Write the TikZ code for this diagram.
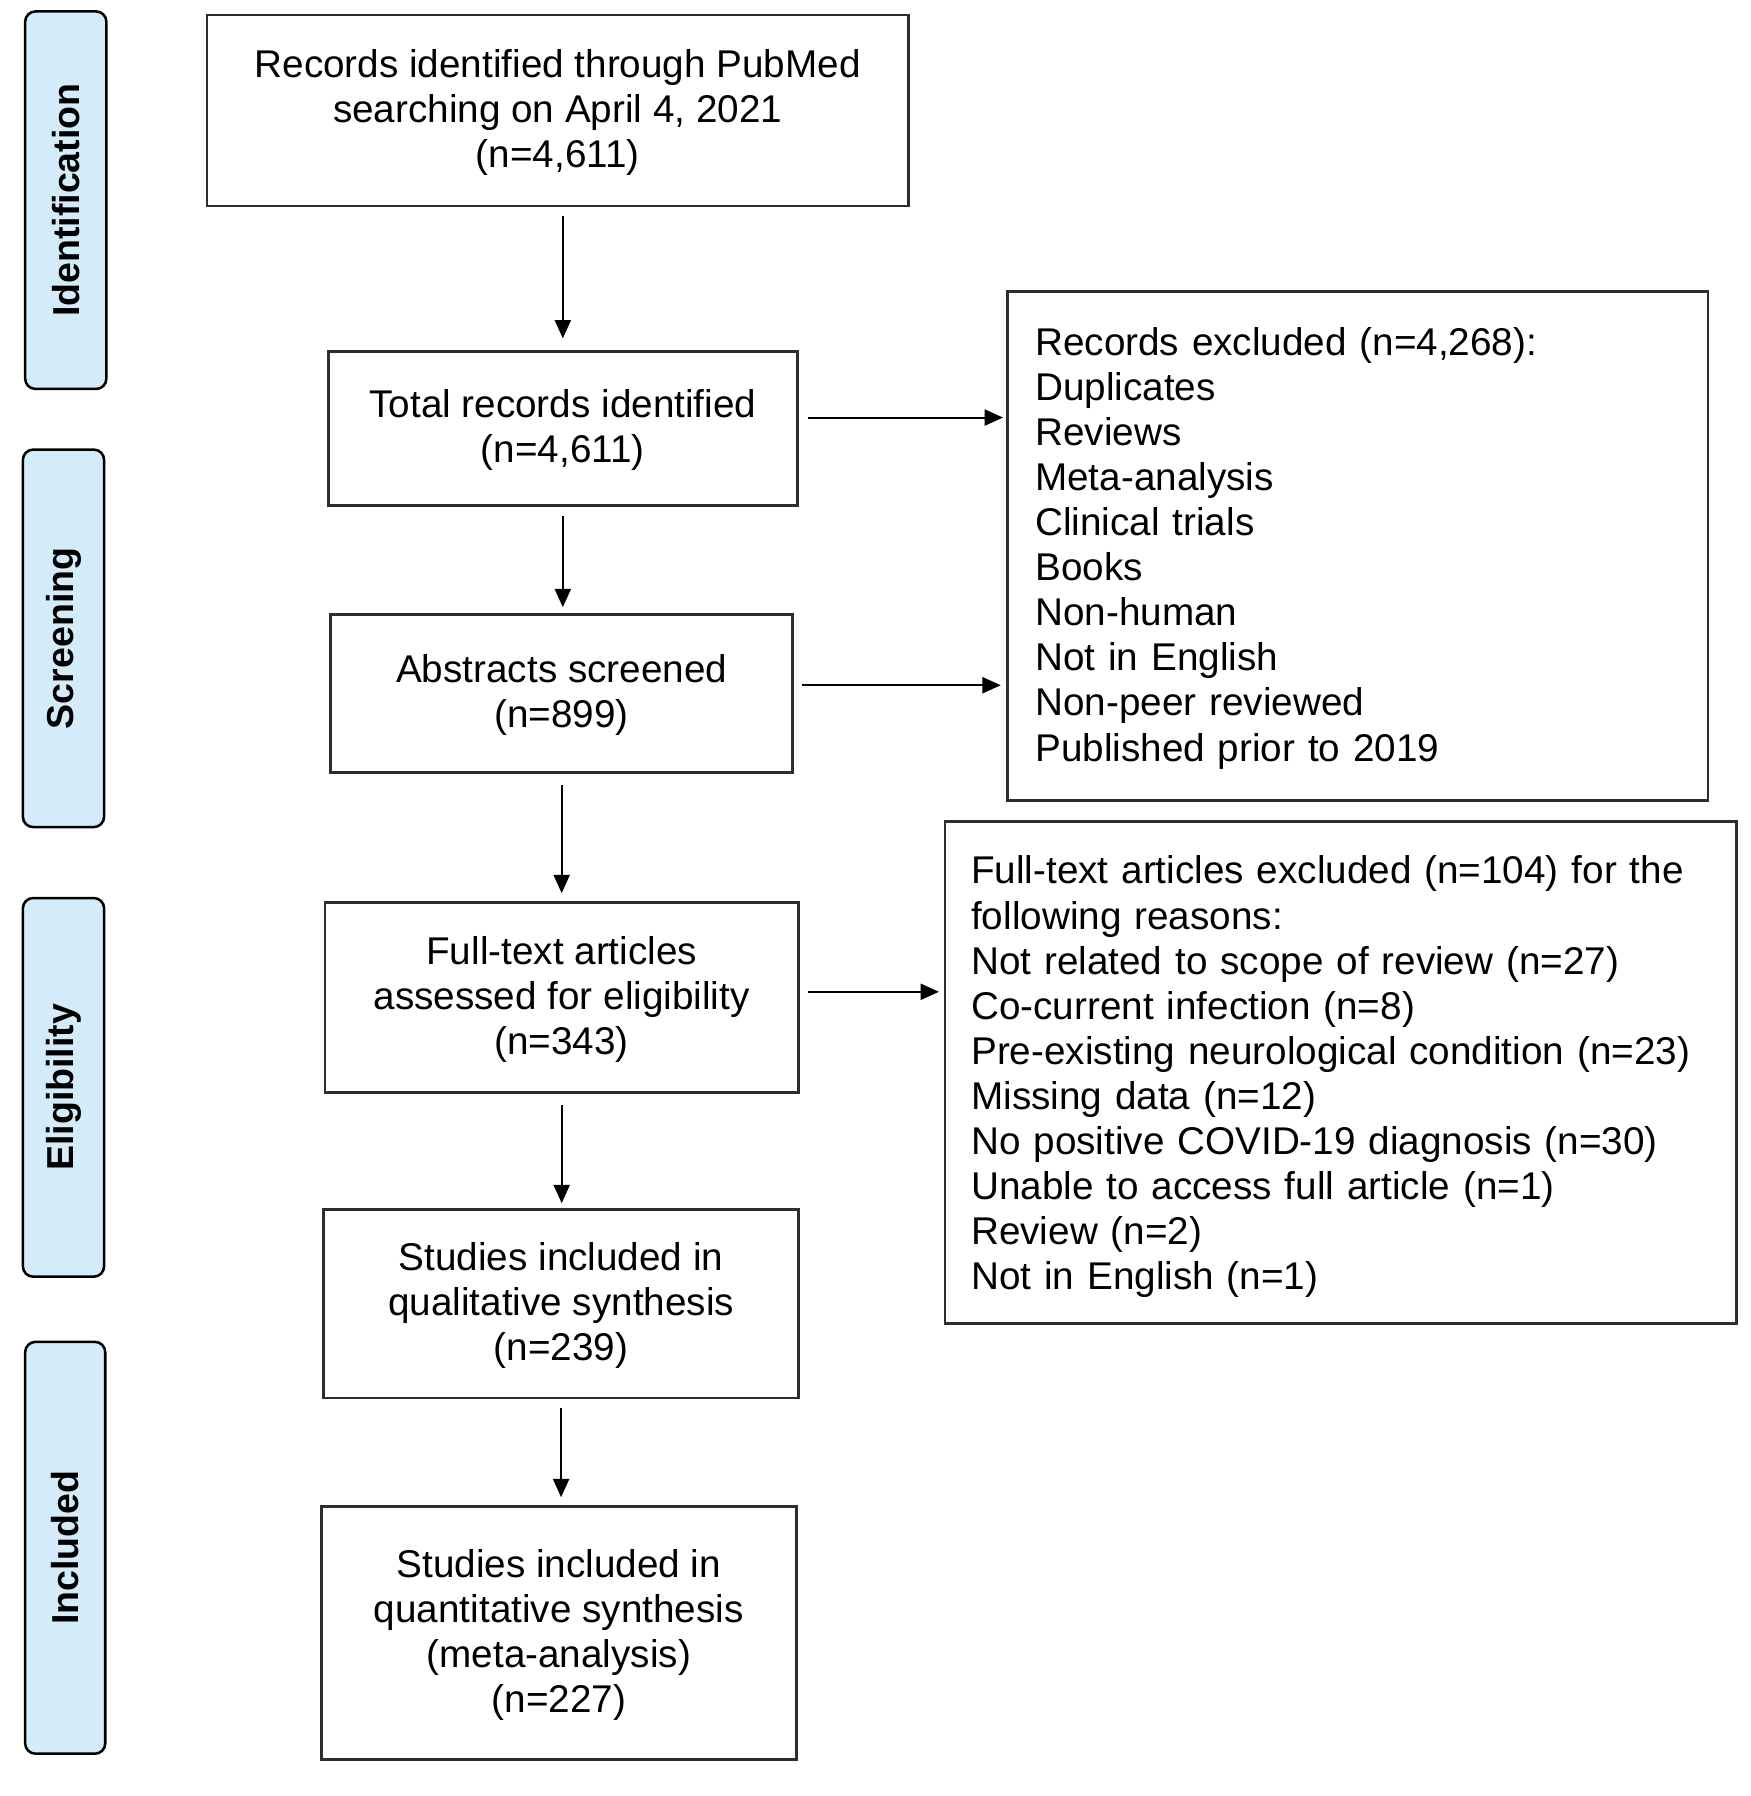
\documentclass[tikz,border=0pt]{standalone}
\usepackage{fontspec}
\setmainfont{Liberation Sans}
\usetikzlibrary{arrows.meta}
\definecolor{pillblue}{RGB}{212,235,250}
\definecolor{edgegray}{RGB}{45,45,45}
\begin{document}
\begin{tikzpicture}[x=0.5pt,y=-0.5pt,
  box/.style={draw=edgegray,line width=1.2pt,align=center,inner sep=0pt,
    font=\fontsize{16.9}{19.7}\selectfont},
  listbox/.style={draw=edgegray,line width=1.2pt,align=left,inner sep=0pt,
    font=\fontsize{16.9}{19.7}\selectfont},
  pill/.style={draw=black,line width=1.1pt,fill=pillblue,rounded corners=4.5pt,
    rotate=90,inner sep=0pt,font=\fontsize{16.4}{19}\selectfont\bfseries},
  arr/.style={line width=0.9pt,-{Triangle[length=8pt,width=7pt]}}]
\useasboundingbox (0,0) rectangle (1530,1570);

% phase labels
\node[pill,minimum width=165pt,minimum height=35.5pt] (pid) at (57.5,175) {Identification};
\node[pill,minimum width=165pt,minimum height=35.5pt] (psc) at (55.5,558) {Screening};
\node[pill,minimum width=165.5pt,minimum height=35.5pt] (pel) at (55.5,950.5) {Eligibility};
\node[pill,minimum width=180pt,minimum height=35pt] (pin) at (57,1353) {Included};

% main column
\node[box,minimum width=306.5pt,minimum height=83.5pt] (b1) at (487.5,96.5)
  {\rule{0pt}{14pt}Records identified through PubMed\\searching on April 4, 2021\\(n=4,611)};
\node[box,minimum width=205pt,minimum height=67.5pt] (b2) at (492,374.5)
  {\rule{0pt}{14pt}Total records identified\\(n=4,611)};
\node[box,minimum width=202pt,minimum height=69pt] (b3) at (491,606)
  {\rule{0pt}{14pt}Abstracts screened\\(n=899)};
\node[box,minimum width=207pt,minimum height=83pt] (b4) at (491,872)
  {\rule{0pt}{14pt}Full-text articles\\assessed for eligibility\\(n=343)};
\node[box,minimum width=207.5pt,minimum height=82.5pt] (b5) at (490.5,1139.5)
  {\rule{0pt}{14pt}Studies included in\\qualitative synthesis\\(n=239)};
\node[box,minimum width=207.5pt,minimum height=110.5pt] (b6) at (488.5,1427.5)
  {\rule{0pt}{14pt}Studies included in\\quantitative synthesis\\(meta-analysis)\\(n=227)};

% exclusion boxes
\node[listbox,minimum width=306pt,minimum height=222.5pt,text width=282pt] (r1) at (1187,477.5)
  {\rule{0pt}{14pt}Records excluded (n=4,268):\\Duplicates\\Reviews\\Meta-analysis\\Clinical trials\\Books\\Non-human\\Not in English\\Non-peer reviewed\\Published prior to 2019};
\node[listbox,minimum width=346pt,minimum height=219.5pt,text width=323pt] (r2) at (1172,937.5)
  {\rule{0pt}{16pt}Full-text articles excluded (n=104) for the\\following reasons:\\Not related to scope of review (n=27)\\Co-current infection (n=8)\\Pre-existing neurological condition (n=23)\\Missing data (n=12)\\No positive COVID-19 diagnosis (n=30)\\Unable to access full article (n=1)\\Review (n=2)\\Not in English (n=1)};

% vertical arrows
\draw[arr,shorten <=4pt,shorten >=5pt] (b1.south -| b2.north) -- (b2.north);
\draw[arr,shorten <=4pt,shorten >=2.5pt] (b2.south) -- (b2.south |- b3.north);
\draw[arr,shorten <=5pt,shorten >=3.5pt] (b3.south) -- (b3.south |- b4.north);
\draw[arr,shorten <=5pt,shorten >=2pt] (b4.south) -- (b4.south |- b5.north);
\draw[arr,shorten <=4pt,shorten >=3.5pt] (b5.south) -- (b5.south |- b6.north);

% horizontal arrows
\coordinate (h2) at ([yshift=4.75pt]b2.east);
\coordinate (h3) at ([yshift=3.5pt]b3.east);
\coordinate (h4) at ([yshift=2.5pt]b4.east);
\draw[arr,shorten <=4pt,shorten >=1.5pt] (h2) -- (h2 -| r1.west);
\draw[arr,shorten <=3.5pt,shorten >=2.5pt] (h3) -- (h3 -| r1.west);
\draw[arr,shorten <=3.5pt,shorten >=2pt] (h4) -- (h4 -| r2.west);
\end{tikzpicture}
\end{document}
